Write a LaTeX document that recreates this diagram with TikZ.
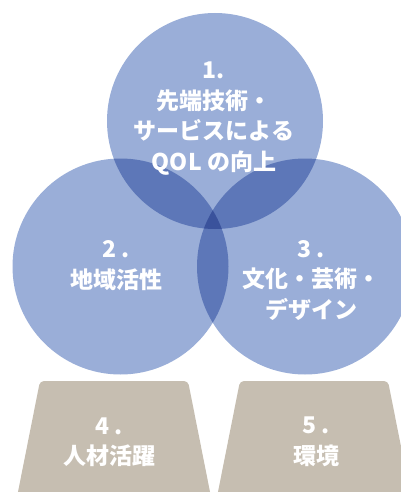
\documentclass[tikz,border=0pt]{standalone}
\usepackage{fontspec}
\newfontfamily\cjk{Noto Sans CJK JP}
\definecolor{blueA}{RGB}{154,174,216}
\definecolor{blueB}{RGB}{93,119,184}
\definecolor{blueC}{RGB}{58,82,156}
\definecolor{beige}{RGB}{198,190,177}
\begin{document}
\begin{tikzpicture}[x=1pt,y=1pt,
  lbl/.style={text=white,align=center,inner sep=0pt,
    font=\cjk\bfseries\fontsize{23}{30.5}\selectfont},
  trap/.style={fill=beige,rounded corners=4pt}]
\useasboundingbox (0,0) rectangle (400,-492);
\coordinate (cA) at (215,-121);
\coordinate (cB) at (120.5,-266.5);
\coordinate (cC) at (305,-266.5);
\def\R{108}
% circles
\fill[blueA] (cA) circle (\R);
\fill[blueA] (cB) circle (\R);
\fill[blueA] (cC) circle (\R);
% pairwise overlaps
\begin{scope}\clip (cA) circle (\R); \fill[blueB] (cB) circle (\R); \end{scope}
\begin{scope}\clip (cA) circle (\R); \fill[blueB] (cC) circle (\R); \end{scope}
\begin{scope}\clip (cB) circle (\R); \fill[blueB] (cC) circle (\R); \end{scope}
% triple overlap
\begin{scope}\clip (cA) circle (\R); \clip (cB) circle (\R); \fill[blueC] (cC) circle (\R); \end{scope}
% trapezoids
\fill[trap] (14.4,-510) -- (40,-381) -- (188,-381) -- (213.6,-510) -- cycle;
\fill[trap] (214.4,-510) -- (240,-381) -- (388,-381) -- (413.6,-510) -- cycle;
% labels
\node[lbl] (t1) at (214,-118.5) {1.\\先端技術・\\サービスによる\\QOL の向上};
\node[lbl] (t2) at (116,-265.5) {2 .\\地域活性};
\node[lbl] (t3) at (311,-280.5) {3 .\\文化・芸術・\\デザイン};
\node[lbl] (t4) at (109,-442) {4 .\\人材活躍};
\node[lbl] (t5) at (316,-442) {5 .\\環境};
\end{tikzpicture}
\end{document}
